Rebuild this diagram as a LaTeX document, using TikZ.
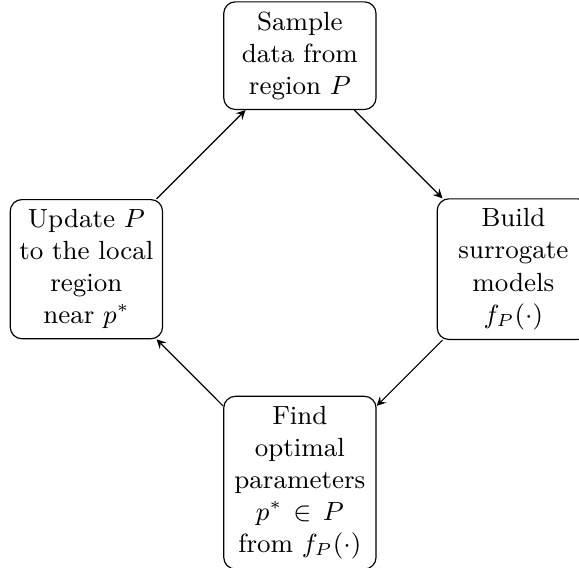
\documentclass[tikz,border=0pt]{standalone}
\usepackage{amsmath, amssymb}
\usetikzlibrary{positioning}

\begin{document}
\begin{tikzpicture}[> = stealth,
		stage/.style = {draw, rounded corners, align=center, text width=1.7cm,
			inner xsep=1.9pt, font=\small}]
	\useasboundingbox (-3.61,-3.59) rectangle (3.36,3.24);
	
	% the four stages
	\node [stage] (sample) at (0,2.57) {Sample\\ data from\\ region $P$};
	\node [stage] (build) at (2.57,0) {Build\\ surrogate\\ models\\ $f_P(\cdot)$};
	\node [stage] (find) at (0,-2.57) {Find\\ optimal\\ parameters\\ $p^* \in P$\\ from $f_P(\cdot)$};
	\node [stage] (update) at (-2.57,0) {Update $P$\\ to the local\\ region\\ near $p^*$};
	
	% loop
	\draw [->] (sample) -- (build);
	\draw [->] (build) -- (find);
	\draw [->] (find) -- (update);
	\draw [->] (update) -- (sample);
	
\end{tikzpicture}
\end{document}
